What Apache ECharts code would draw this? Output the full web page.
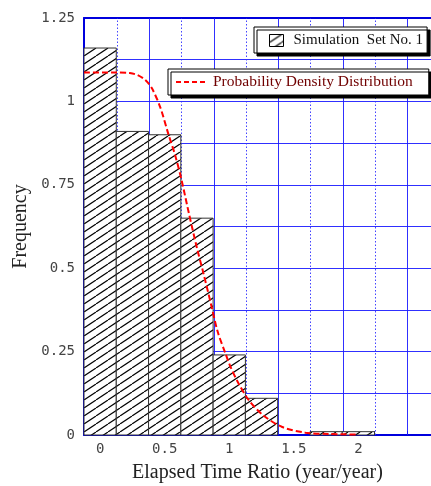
<!DOCTYPE html>
<html>
<head>
<meta charset="utf-8">
<script src="https://cdn.jsdelivr.net/npm/echarts@6/dist/echarts.min.js"></script>
<style>
  html, body { margin: 0; padding: 0; background: #fff; }
  #chart { width: 431px; height: 486px; }
</style>
</head>
<body>
<div id="chart"></div>
<script>
// Histogram bins (lower edge of each bin, width 0.25) and their frequencies
const binStart = [-0.125, 0.125, 0.375, 0.625, 0.875, 1.125, 1.375, 1.625, 1.875];
const binWidth = 0.25;
const binFreq = [1.16, 0.91, 0.90, 0.65, 0.24, 0.11, 0, 0.01, 0.01];

// Fitted probability density curve
const densX = [-0.125, 0.125, 0.23, 0.29, 0.35, 0.40, 0.465, 0.53, 0.58, 0.63, 0.69, 0.75, 0.80, 0.86, 0.91, 0.97, 1.01, 1.07, 1.15, 1.26, 1.41, 1.59, 1.78, 1.98];
const densY = [1.087, 1.087, 1.085, 1.079, 1.064, 1.040, 0.983, 0.900, 0.840, 0.765, 0.660, 0.560, 0.485, 0.390, 0.310, 0.245, 0.204, 0.156, 0.105, 0.060, 0.024, 0.007, 0.003, 0.0015];

// Axis tick labels and grid positions
const xLabels = [0, 0.5, 1, 1.5, 2];
const xGridSolid = [0.375, 0.875, 1.375, 1.875, 2.375];
const xGridDotted = [0.125, 0.625, 1.125, 1.625, 2.125];
const yTicks = [0.125, 0.25, 0.375, 0.5, 0.625, 0.75, 0.875, 1, 1.125];

const histName = 'Simulation  Set No. 1';
const densName = 'Probability Density Distribution';

const BLUE = '#0000dd';
const GRID_SOLID = '#1a1aff';
const GRID_DOT = '#3030ff';

// Diagonal hatch tile
function makeHatch(w, h) {
  const c = document.createElement('canvas');
  c.width = w; c.height = h;
  const ctx = c.getContext('2d');
  ctx.fillStyle = '#fff';
  ctx.fillRect(0, 0, w, h);
  ctx.strokeStyle = '#000';
  ctx.lineWidth = 1.2;
  for (const off of [-w, 0, w]) {
    ctx.beginPath();
    ctx.moveTo(off, h);
    ctx.lineTo(off + w, 0);
    ctx.stroke();
  }
  return c;
}
const hatch = { image: makeHatch(12, 8), repeat: 'repeat' };

const binData = binStart.map((s, i) => [s, s + binWidth, binFreq[i]]);
const densData = densX.map((x, i) => [x, densY[i]]);

const gridLines = xGridSolid.map(v => ({ xAxis: v, lineStyle: { type: 'solid', color: GRID_SOLID, width: 1, opacity: 0.9 } }))
  .concat(xGridDotted.map(v => ({ xAxis: v, lineStyle: { type: [1.5, 2], color: GRID_DOT, width: 1, opacity: 0.9 } })));

const chart = echarts.init(document.getElementById('chart'), null, { renderer: 'canvas' });

chart.setOption({
  animation: false,
  backgroundColor: '#fff',
  grid: { left: 84, top: 18, right: 0, bottom: 51, containLabel: false, outerBoundsMode: 'none' },
  legend: [
    {
      data: [histName],
      left: 254, top: 27,
      orient: 'horizontal',
      padding: [6, 4, 5, 15],
      itemWidth: 14, itemHeight: 12,
      icon: 'rect',
      itemStyle: { color: hatch, borderColor: '#000', borderWidth: 1 },
      backgroundColor: '#fff',
      borderColor: '#000', borderWidth: 1,
      shadowColor: '#000', shadowOffsetX: 3, shadowOffsetY: 3, shadowBlur: 0,
      textStyle: { fontFamily: 'Liberation Serif', fontSize: 15, color: '#111', padding: [0, 0, 0, 5] },
      selectedMode: false
    },
    {
      data: [densName],
      left: 168, top: 69,
      padding: [5, 16, 5, 7],
      itemWidth: 32, itemHeight: 12,
      itemStyle: { color: 'rgba(0,0,0,0)', borderColor: 'rgba(0,0,0,0)', borderWidth: 0 },
      lineStyle: { color: '#ff0000', width: 2, type: [5, 3] },
      backgroundColor: '#fff',
      borderColor: '#000', borderWidth: 1,
      shadowColor: '#000', shadowOffsetX: 3, shadowOffsetY: 3, shadowBlur: 0,
      textStyle: { fontFamily: 'Liberation Serif', fontSize: 15.5, color: '#700000' },
      selectedMode: false
    }
  ],
  xAxis: [
    {
      type: 'value',
      min: -0.125, max: 2.5625,
      name: 'Elapsed Time Ratio (year/year)',
      nameLocation: 'middle',
      nameGap: 28,
      nameTextStyle: { fontFamily: 'Liberation Serif', fontSize: 20, color: '#222' },
      axisLine: { show: true, onZero: false, lineStyle: { color: BLUE, width: 2 } },
      axisTick: { show: true, inside: true, length: 4, customValues: xGridDotted.concat(xGridSolid), lineStyle: { color: BLUE, width: 1 } },
      axisLabel: { customValues: xLabels, margin: 7, fontFamily: 'DejaVu Sans Mono', fontSize: 14, color: '#444' },
      splitLine: { show: false }
    },
    {
      type: 'value', position: 'top',
      min: -0.125, max: 2.5625,
      axisLine: { show: true, onZero: false, lineStyle: { color: BLUE, width: 2 } },
      axisTick: { show: false }, axisLabel: { show: false }, splitLine: { show: false }
    }
  ],
  yAxis: {
    type: 'value',
    min: 0, max: 1.25, interval: 0.25,
    name: 'Frequency',
    nameLocation: 'middle',
    nameGap: 43,
    nameTextStyle: { fontFamily: 'Liberation Serif', fontSize: 20, color: '#222' },
    axisLine: { show: true, onZero: false, lineStyle: { color: BLUE, width: 2 } },
    axisTick: { show: true, inside: true, length: 4, customValues: yTicks, lineStyle: { color: BLUE, width: 1 } },
    axisLabel: { margin: 9, fontFamily: 'DejaVu Sans Mono', fontSize: 14, color: '#444' },
    splitLine: { show: true, lineStyle: { color: GRID_SOLID, width: 1, type: 'solid', opacity: 0.9 } },
    minorTick: { show: false, splitNumber: 2 },
    minorSplitLine: { show: true, lineStyle: { color: GRID_DOT, width: 1, type: [1.5, 2], opacity: 0.9 } }
  },
  series: [
    {
      // vertical grid lines
      type: 'line', data: [], silent: true, z: 1,
      markLine: { silent: true, symbol: 'none', z: 1, label: { show: false }, lineStyle: { color: GRID_SOLID }, data: gridLines }
    },
    {
      name: histName,
      type: 'custom',
      z: 2,
      data: binData,
      encode: { x: [0, 1], y: 2 },
      itemStyle: { color: hatch },
      renderItem: function (params, api) {
        const x0 = api.value(0), x1 = api.value(1), h = api.value(2);
        if (!(h > 0)) return null;
        const p0 = api.coord([x0, h]);
        const p1 = api.coord([x1, 0]);
        return {
          type: 'rect',
          shape: { x: p0[0], y: p0[1], width: p1[0] - p0[0], height: p1[1] - p0[1] },
          style: { fill: hatch, stroke: '#333', lineWidth: 1 }
        };
      }
    },
    {
      name: densName,
      type: 'line',
      z: 4,
      data: densData,
      smooth: 0.3,
      symbol: 'none',
      lineStyle: { color: '#ff0000', width: 2, type: [6, 3] },
      itemStyle: { color: '#ff0000' }
    }
  ]
});
</script>
</body>
</html>
